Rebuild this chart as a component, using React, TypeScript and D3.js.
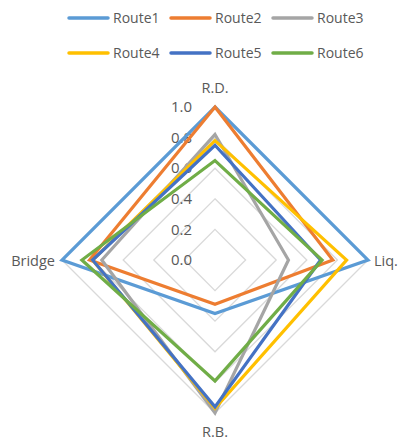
import React from "react";
import * as d3 from "d3";

const axes = ["R.D.", "Liq.", "R.B.", "Bridge"];
const seriesNames = ["Route1", "Route2", "Route3", "Route4", "Route5", "Route6"];
const route1 = [1.0, 1.0, 0.35, 1.0];
const route2 = [1.0, 0.77, 0.29, 0.82];
const route3 = [0.82, 0.48, 1.0, 0.74];
const route4 = [0.78, 0.86, 0.97, 0.8];
const route5 = [0.75, 0.69, 0.96, 0.8];
const route6 = [0.65, 0.7, 0.79, 0.87];
const seriesValues = [route1, route2, route3, route4, route5, route6];
const colors = ["#5B9BD5", "#ED7D31", "#A5A5A5", "#FFC000", "#4472C4", "#70AD47"];
const ticks = [0, 0.2, 0.4, 0.6, 0.8, 1.0];

const W = 398;
const H = 441;
const cx = 215;
const cy = 260;
const R = 153;
const font = "'Open Sans', 'Liberation Sans', sans-serif";
const textColor = "#595959";

export default function App() {
  const r = d3.scaleLinear().domain([0, 1]).range([0, R]);
  const angle = d3.scalePoint<string>().domain(axes).range([0, (2 * Math.PI * 3) / 4]);
  const pt = (a: string, v: number): [number, number] => {
    const t = angle(a)!;
    return [cx + r(v) * Math.sin(t), cy - r(v) * Math.cos(t)];
  };
  const line = d3.line<[number, number]>().curve(d3.curveLinearClosed);

  const legendRows = [seriesNames.slice(0, 3), seriesNames.slice(3)];

  return (
    <svg width={W} height={H} style={{ position: "absolute", left: 0, top: 0 }}>
      <rect width={W} height={H} fill="#fff" />
      {ticks.slice(1).map((t) => (
        <path
          key={t}
          d={line(axes.map((a) => pt(a, t)))!}
          fill="none"
          stroke="#D9D9D9"
          strokeWidth={1.3}
        />
      ))}
      {ticks.map((t) => (
        <text
          key={"t" + t}
          x={cx - 23}
          y={cy - r(t)}
          dy="0.35em"
          textAnchor="end"
          fontFamily={font}
          fontSize={15}
          fill={textColor}
        >
          {t.toFixed(1)}
        </text>
      ))}
      {seriesValues.map((vals, i) => (
        <path
          key={seriesNames[i]}
          d={line(axes.map((a, j) => pt(a, vals[j])))!}
          fill="none"
          stroke={colors[i]}
          strokeWidth={3.2}
          strokeLinejoin="miter"
        />
      ))}
      <text x={cx} y={93} textAnchor="middle" fontFamily={font} fontSize={14.5} fill={textColor}>
        {axes[0]}
      </text>
      <text x={374} y={266} textAnchor="start" fontFamily={font} fontSize={14.5} fill={textColor}>
        {axes[1]}
      </text>
      <text x={cx} y={437} textAnchor="middle" fontFamily={font} fontSize={14.5} fill={textColor}>
        {axes[2]}
      </text>
      <text x={55} y={266} textAnchor="end" fontFamily={font} fontSize={14.5} fill={textColor}>
        {axes[3]}
      </text>
      {legendRows.map((row, ri) =>
        row.map((name, ci) => {
          const idx = ri * 3 + ci;
          const x0 = 69 + ci * 102;
          const y0 = 18 + ri * 35;
          return (
            <g key={name}>
              <line x1={x0} x2={x0 + 39} y1={y0} y2={y0} stroke={colors[idx]} strokeWidth={3.5} strokeLinecap="round" />
              <text x={x0 + 44} y={y0} dy="0.35em" fontFamily={font} fontSize={14} fill={textColor}>
                {name}
              </text>
            </g>
          );
        })
      )}
    </svg>
  );
}
